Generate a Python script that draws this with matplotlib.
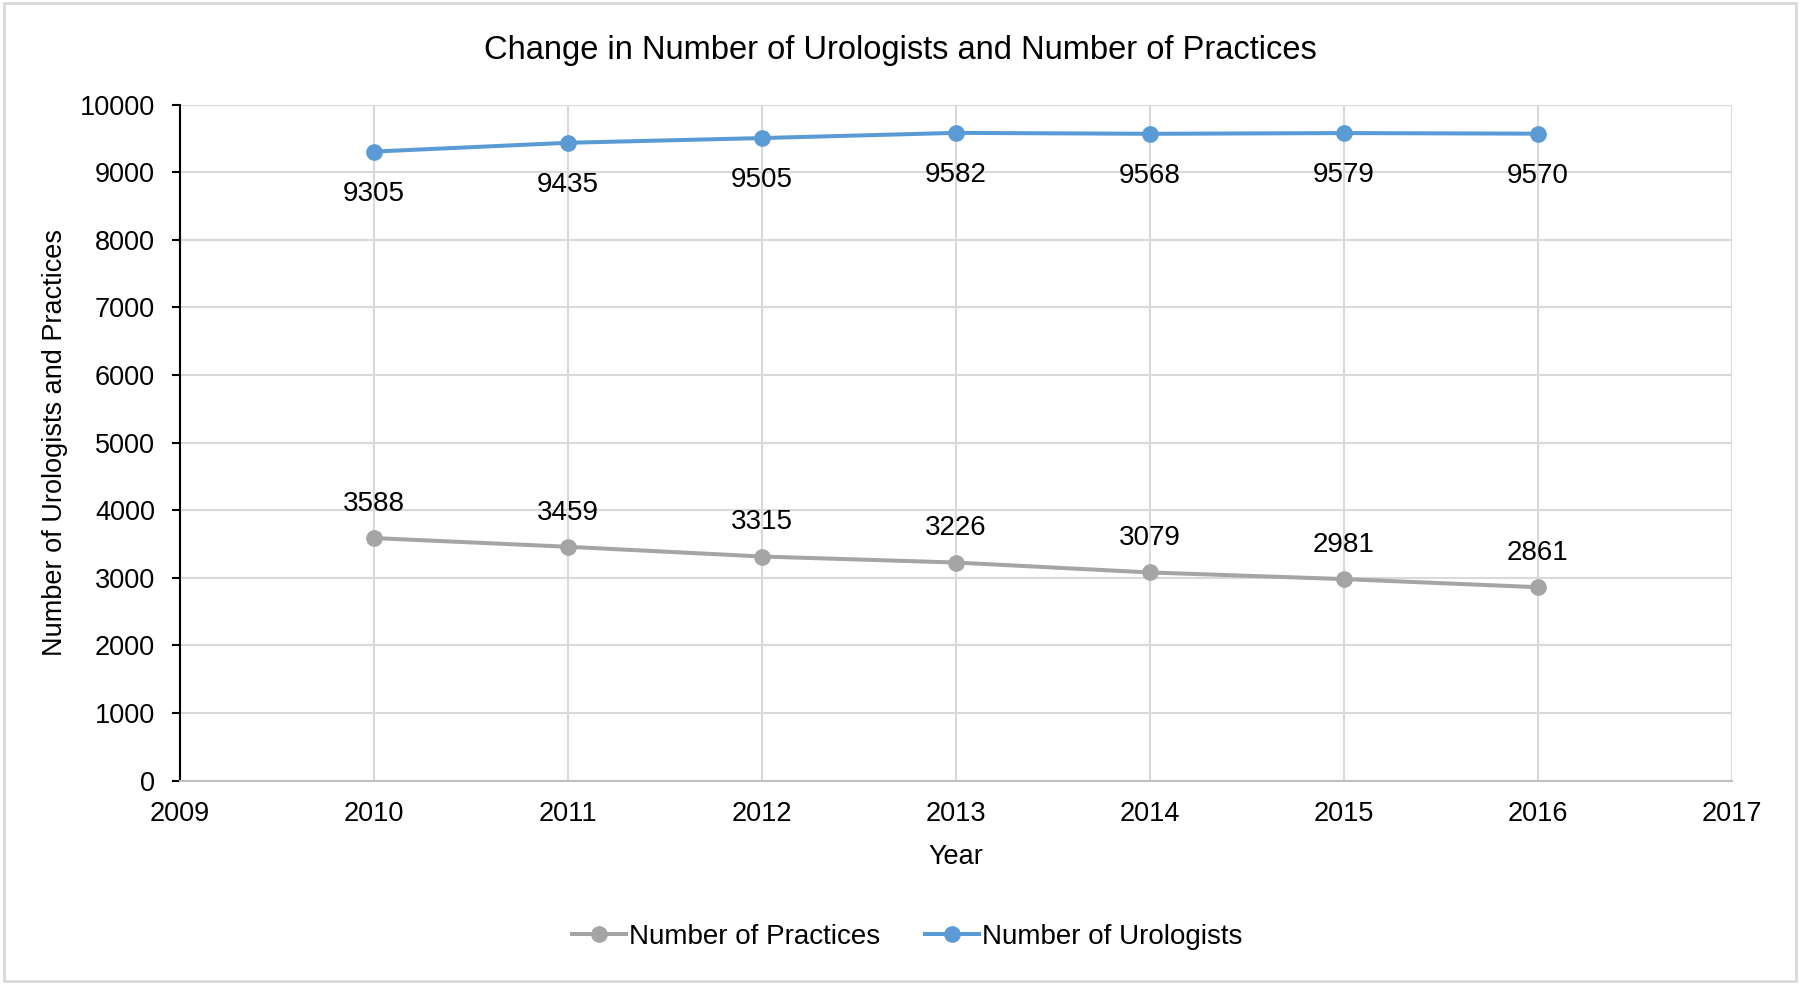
import numpy as np
import matplotlib
matplotlib.use('Agg')
import matplotlib.pyplot as plt
from matplotlib.patches import Rectangle

plt.rcParams['font.family'] = ['Liberation Sans', 'DejaVu Sans']

years = [2010, 2011, 2012, 2013, 2014, 2015, 2016]
practices = [3588, 3459, 3315, 3226, 3079, 2981, 2861]
urologists = [9305, 9435, 9505, 9582, 9568, 9579, 9570]

blue = '#5b9bd5'
grey = '#a5a5a5'

fig = plt.figure(figsize=(18, 9.84), dpi=100)
ax = fig.add_axes([0.1, 0.2067, 0.862, 0.687])

ax.plot(years, practices, color=grey, lw=2.9, marker='o', ms=11, label='Number of Practices', zorder=3)
ax.plot(years, urologists, color=blue, lw=2.9, marker='o', ms=11, label='Number of Urologists', zorder=3)

for x, y in zip(years, practices):
    ax.annotate(str(y), (x, y), xytext=(0, 24.5), textcoords='offset points',
                ha='center', va='center', fontsize=20)
for x, y in zip(years, urologists):
    ax.annotate(str(y), (x, y), xytext=(0, -30.5), textcoords='offset points',
                ha='center', va='center', fontsize=20)

ax.set_xlim(2009, 2017)
ax.set_ylim(0, 10000)
ax.set_xticks(range(2009, 2018))
ax.set_yticks(range(0, 10001, 1000))
ax.grid(True, color='#d9d9d9', lw=1.5)
ax.set_axisbelow(True)
for s in ['top', 'right']:
    ax.spines[s].set_visible(False)
ax.spines['left'].set_color('black')
ax.spines['left'].set_linewidth(1.5)
ax.spines['bottom'].set_color('#bfbfbf')
ax.spines['bottom'].set_linewidth(1.5)
ax.tick_params(axis='y', length=6, width=1.5, labelsize=19.5, pad=12)
ax.tick_params(axis='x', length=0, labelsize=19.5, pad=15)

ax.set_xlabel('Year', fontsize=19.5, labelpad=12)
ax.set_ylabel('')
fig.text(0.0306, 0.55, 'Number of Urologists and Practices', rotation=90,
         ha='center', va='center', fontsize=19.5)
fig.text(0.5, 0.949, 'Change in Number of Urologists and Number of Practices',
         ha='center', va='center', fontsize=23.5)

ax.legend(loc='center', bbox_to_anchor=(0.504, 0.048), bbox_transform=fig.transFigure,
          ncol=2, frameon=False, fontsize=20, handlelength=1.95, columnspacing=1.6,
          handletextpad=0.1)

fig.patches.append(Rectangle((0.002, 0.003), 0.996, 0.994, transform=fig.transFigure,
                             fill=False, edgecolor='#d9d9d9', lw=2))

fig.savefig('out.png', dpi=100)
